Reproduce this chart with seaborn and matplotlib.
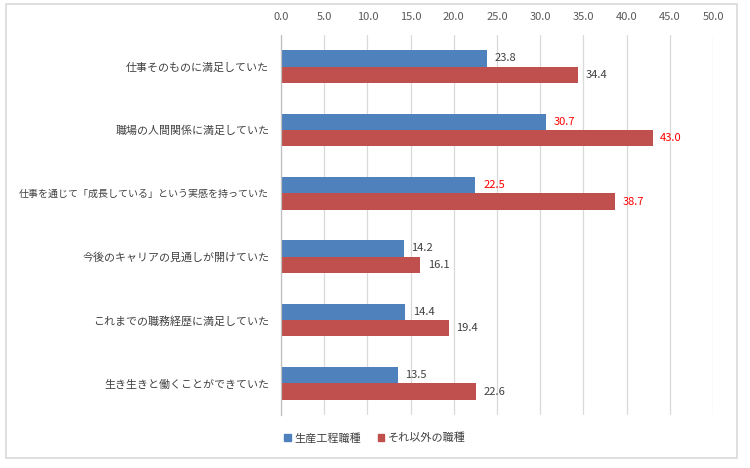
import pandas as pd
import matplotlib.pyplot as plt
import seaborn as sns
from matplotlib.patches import Rectangle

categories = ['仕事そのものに満足していた', '職場の人間関係に満足していた',
              '仕事を通じて「成長している」という実感を持っていた',
              '今後のキャリアの見通しが開けていた', 'これまでの職務経歴に満足していた',
              '生き生きと働くことができていた']
series_names = ['生産工程職種', 'それ以外の職種']
production = [23.8, 30.7, 22.5, 14.2, 14.4, 13.5]
others = [34.4, 43.0, 38.7, 16.1, 19.4, 22.6]
x_ticks = [0, 5, 10, 15, 20, 25, 30, 35, 40, 45, 50]

df = pd.DataFrame({
    'category': categories * 2,
    'series': [series_names[0]] * len(categories) + [series_names[1]] * len(categories),
    'value': production + others,
})

sns.set_style('white')
plt.rcParams['font.family'] = ['Noto Sans CJK JP', 'DejaVu Sans']

fig = plt.figure(figsize=(7.5, 4.68), dpi=100)
ax = fig.add_axes([281 / 750, 1 - 415 / 468, 432 / 750, 380 / 468])

sns.barplot(data=df, x='value', y='category', hue='series', orient='h',
            palette=['#4F81BD', '#C0504D'], saturation=1, width=0.52, gap=0,
            ax=ax, legend=False, edgecolor='none')

# value labels, a couple highlighted in red like the source
red_cats = {1, 2}
for i, cont in enumerate(ax.containers):
    for j, bar in enumerate(cont):
        val = bar.get_width()
        col = '#FF0000' if j in red_cats else '#404040'
        ax.text(val + 0.9, bar.get_y() + bar.get_height() / 2, f'{val:.1f}',
                va='center', ha='left', fontsize=8, color=col)

ax.set_xlim(0, 50)
ax.set_xticks(x_ticks)
ax.set_xticklabels([f'{t:.1f}' for t in x_ticks])
ax.xaxis.tick_top()
ax.tick_params(axis='x', length=0, pad=9, labelsize=8, labelcolor='#595959')
ax.tick_params(axis='y', length=0, pad=8.5, labelsize=7.9, labelcolor='#404040')
# the long label needs to be a bit smaller to fit inside the frame
for lab in ax.get_yticklabels():
    if len(lab.get_text()) > 20:
        lab.set_fontsize(7.2)
ax.grid(axis='x', color='#D9D9D9', linewidth=0.9)
ax.set_axisbelow(True)
ax.set_xlabel('')
ax.set_ylabel('')
for s in ['top', 'right', 'bottom']:
    ax.spines[s].set_visible(False)
ax.spines['left'].set_color('#BFBFBF')
ax.spines['left'].set_linewidth(0.9)

# legend below
handles = [Rectangle((0, 0), 1, 1, color='#4F81BD'), Rectangle((0, 0), 1, 1, color='#C0504D')]
fig.legend(handles, series_names, loc='center', bbox_to_anchor=(375 / 750, 1 - 438 / 468),
           ncol=2, frameon=False, fontsize=8, handlelength=0.6, handleheight=0.6,
           handletextpad=0.3, columnspacing=1.5, labelcolor='#404040')

# outer chart border
fig.patches.append(Rectangle((6 / 750, 1 - 458 / 468), 731 / 750, 454 / 468,
                             transform=fig.transFigure, fill=False,
                             edgecolor='#D9D9D9', linewidth=1.2))

fig.savefig('out.png', dpi=100)
